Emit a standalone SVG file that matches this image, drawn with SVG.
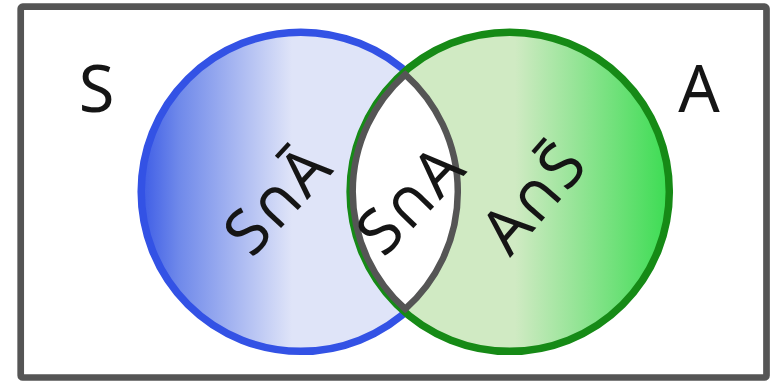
<svg xmlns="http://www.w3.org/2000/svg" width="776" height="381" viewBox="0 0 776 381">
  <defs>
    <linearGradient id="gBlue" gradientUnits="userSpaceOnUse" x1="141" y1="0" x2="292" y2="0">
      <stop offset="0" stop-color="#3d5ce6"/>
      <stop offset="0.25" stop-color="#6f89ea"/>
      <stop offset="1" stop-color="#dfe4f8"/>
    </linearGradient>
    <linearGradient id="gGreen" gradientUnits="userSpaceOnUse" x1="515" y1="0" x2="670" y2="0">
      <stop offset="0" stop-color="#d0eac3"/>
      <stop offset="1" stop-color="#3bdc52"/>
    </linearGradient>
    <style>
      .lbl { font-family: "Noto Sans", "DejaVu Sans", sans-serif; fill: #151515; text-anchor: middle; }
      .big { font-size: 65px; }
      .rot { font-size: 63px; }
    </style>
  </defs>

  <rect id="frame" x="20.7" y="6.7" width="745.8" height="370.8" rx="2" fill="#ffffff" stroke="#555555" stroke-width="6.7"/>

  <g id="setS">
    <circle cx="300.8" cy="191.75" r="159.6" fill="url(#gBlue)" stroke="#3352e5" stroke-width="7.5"/>
  </g>
  <g id="setA">
    <circle cx="509.7" cy="191.75" r="159.6" fill="url(#gGreen)" stroke="#168a16" stroke-width="7.5"/>
  </g>
  <g id="intersection">
    <path d="M405.25 74.54 A157 157 0 0 1 405.25 308.96 A157 157 0 0 1 405.25 74.54 Z" fill="#ffffff" stroke="#555555" stroke-width="6.5" stroke-linejoin="miter"/>
  </g>

  <g id="labels">
    <text class="lbl big" x="96.5" y="112">S</text>
    <text class="lbl big" x="699" y="112">A</text>
    <text class="lbl rot" transform="translate(277,200) rotate(-47)" x="0" y="22">S∩Ā</text>
    <text class="lbl rot" transform="translate(410,200) rotate(-46)" x="0" y="22">S∩A</text>
    <text class="lbl rot" transform="translate(533,198) rotate(-49)" x="0" y="22">A∩S̄</text>
  </g>
</svg>
